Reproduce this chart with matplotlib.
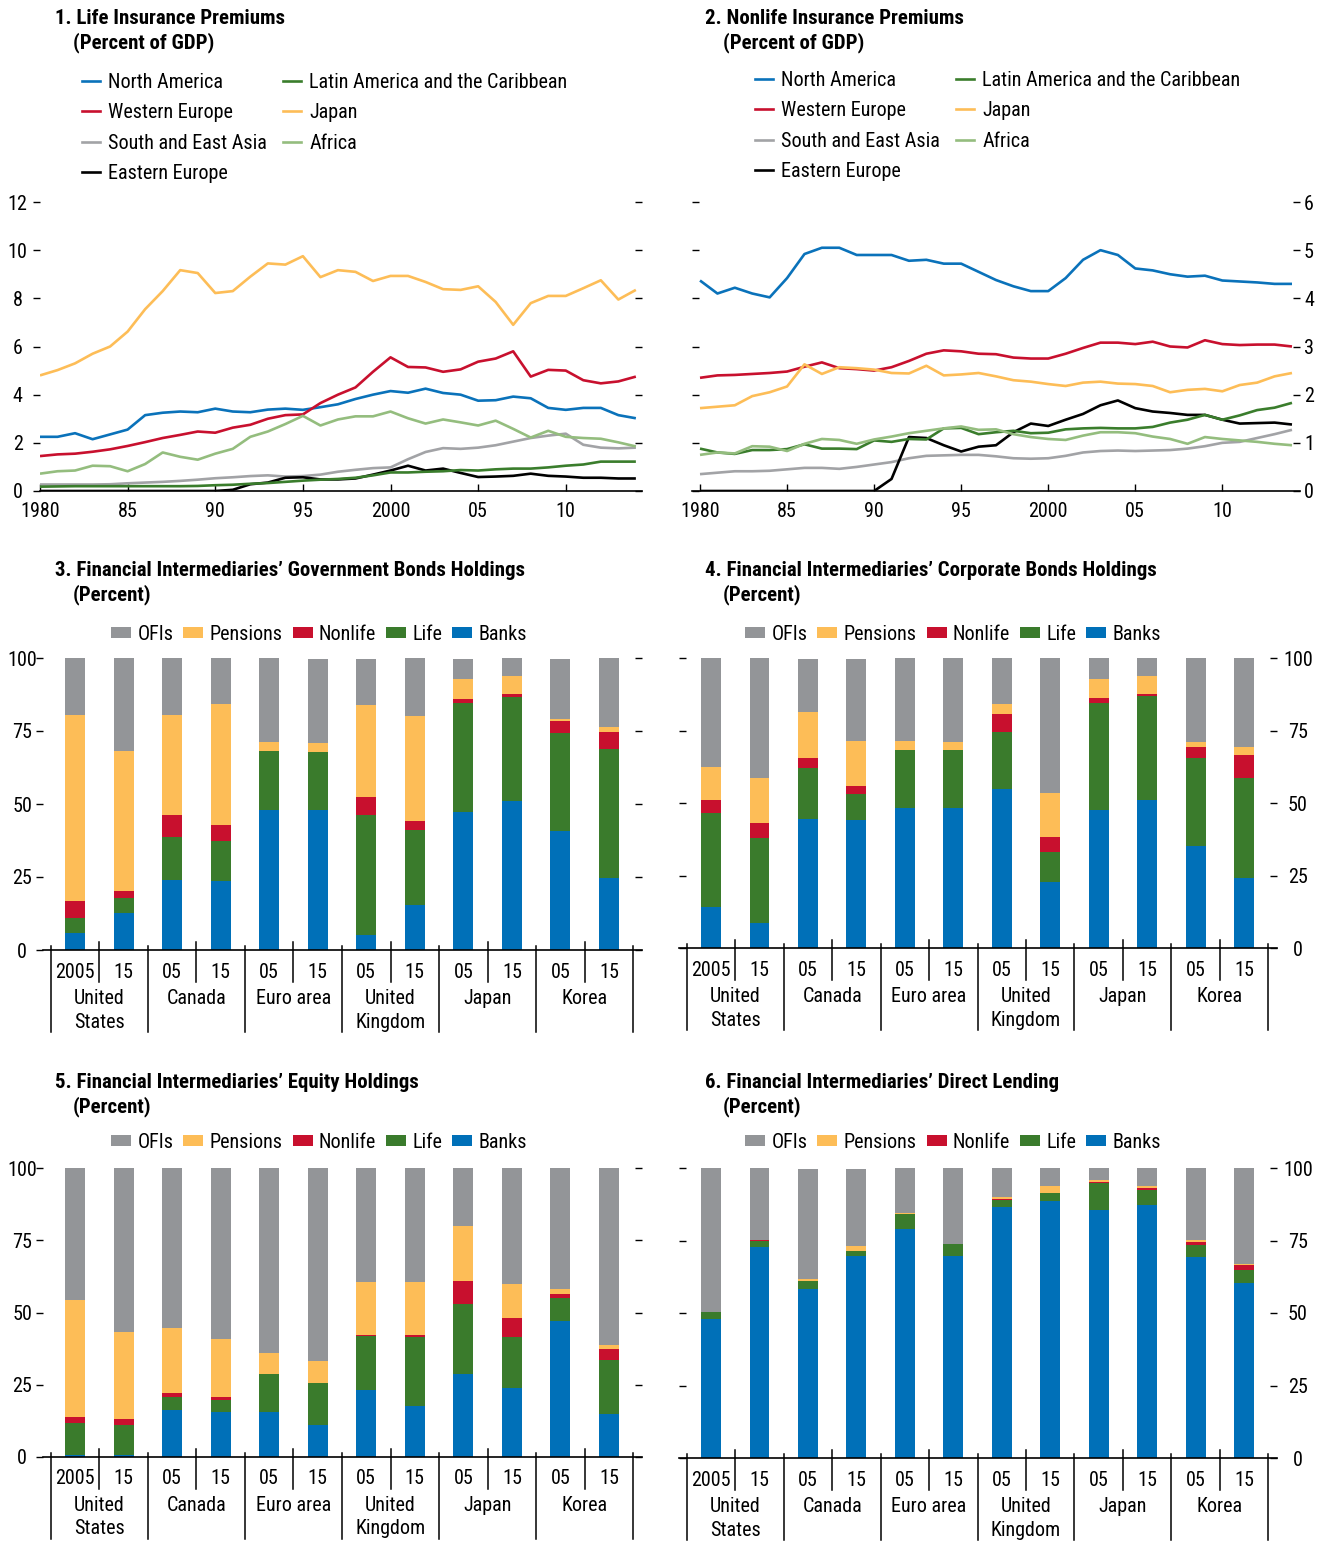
import numpy as np
import matplotlib
matplotlib.use('Agg')
import matplotlib.pyplot as plt
import matplotlib.transforms as mtransforms
from matplotlib import font_manager as fm
from matplotlib.lines import Line2D
from matplotlib.patches import Patch

W, H = 1323, 1541

# ---------------- data: insurance premiums (percent of GDP) ----------------
years = np.arange(1980, 2015)
regions = ['North America', 'Western Europe', 'South and East Asia', 'Eastern Europe',
           'Latin America and the Caribbean', 'Japan', 'Africa']
region_colors = ['#0a72ba', '#c8102e', '#a2a3a6', '#000000', '#3a7d2c', '#fdbd57', '#94bd7e']

life_na = [2.25, 2.25, 2.40, 2.15, 2.35, 2.55, 3.15, 3.25, 3.30, 3.27,
           3.42, 3.30, 3.27, 3.38, 3.42, 3.37, 3.48, 3.60, 3.82, 4.00,
           4.15, 4.08, 4.25, 4.07, 4.00, 3.75, 3.77, 3.92, 3.85, 3.45,
           3.37, 3.45, 3.45, 3.15, 3.02]
life_we = [1.45, 1.52, 1.55, 1.63, 1.73, 1.87, 2.03, 2.20, 2.33, 2.47,
           2.42, 2.63, 2.75, 3.00, 3.15, 3.18, 3.65, 4.00, 4.30, 4.95,
           5.55, 5.15, 5.13, 4.95, 5.05, 5.37, 5.50, 5.80, 4.75, 5.03,
           5.00, 4.60, 4.47, 4.55, 4.75]
life_sea = [0.27, 0.27, 0.27, 0.27, 0.28, 0.32, 0.35, 0.38, 0.42, 0.47,
            0.53, 0.57, 0.62, 0.65, 0.60, 0.62, 0.68, 0.80, 0.88, 0.95,
            0.98, 1.32, 1.62, 1.78, 1.75, 1.80, 1.90, 2.05, 2.20, 2.30,
            2.38, 1.92, 1.80, 1.77, 1.80]
life_ee = [0.00, 0.00, 0.00, 0.00, 0.00, 0.00, 0.00, 0.00, 0.00, 0.00,
           0.00, 0.05, 0.28, 0.35, 0.55, 0.57, 0.48, 0.48, 0.52, 0.68,
           0.85, 1.05, 0.85, 0.93, 0.75, 0.58, 0.60, 0.63, 0.72, 0.63,
           0.60, 0.55, 0.55, 0.52, 0.52]
life_lac = [0.18, 0.19, 0.20, 0.20, 0.20, 0.20, 0.20, 0.20, 0.20, 0.21,
            0.24, 0.26, 0.30, 0.33, 0.38, 0.43, 0.47, 0.50, 0.55, 0.65,
            0.77, 0.77, 0.80, 0.82, 0.87, 0.85, 0.90, 0.93, 0.93, 0.98,
            1.05, 1.10, 1.22, 1.22, 1.22]
life_jp = [4.80, 5.02, 5.30, 5.70, 6.00, 6.62, 7.55, 8.30, 9.17, 9.05,
           8.22, 8.30, 8.90, 9.45, 9.40, 9.75, 8.88, 9.17, 9.10, 8.72,
           8.93, 8.93, 8.68, 8.38, 8.35, 8.50, 7.85, 6.90, 7.80, 8.10,
           8.10, 8.42, 8.75, 7.95, 8.35]
life_af = [0.72, 0.82, 0.85, 1.05, 1.03, 0.82, 1.12, 1.60, 1.42, 1.30,
           1.55, 1.75, 2.25, 2.47, 2.78, 3.12, 2.72, 2.97, 3.10, 3.10,
           3.30, 3.02, 2.80, 2.97, 2.85, 2.72, 2.92, 2.58, 2.22, 2.50,
           2.25, 2.20, 2.17, 2.02, 1.85]

nl_na = [4.37, 4.10, 4.22, 4.10, 4.02, 4.42, 4.92, 5.05, 5.05, 4.90,
         4.90, 4.90, 4.78, 4.80, 4.72, 4.72, 4.55, 4.38, 4.25, 4.15,
         4.15, 4.42, 4.80, 5.00, 4.90, 4.62, 4.58, 4.50, 4.45, 4.47,
         4.37, 4.35, 4.33, 4.30, 4.30]
nl_we = [2.35, 2.40, 2.41, 2.43, 2.45, 2.48, 2.58, 2.67, 2.55, 2.53,
         2.50, 2.57, 2.70, 2.85, 2.92, 2.90, 2.85, 2.84, 2.77, 2.75,
         2.75, 2.85, 2.97, 3.08, 3.08, 3.05, 3.10, 3.00, 2.98, 3.13,
         3.05, 3.03, 3.04, 3.04, 3.00]
nl_sea = [0.35, 0.38, 0.41, 0.41, 0.42, 0.45, 0.48, 0.48, 0.46, 0.50,
          0.55, 0.60, 0.68, 0.73, 0.74, 0.75, 0.75, 0.72, 0.68, 0.67,
          0.68, 0.73, 0.80, 0.83, 0.84, 0.83, 0.84, 0.85, 0.88, 0.93,
          1.00, 1.02, 1.10, 1.18, 1.27]
nl_ee = [0.00, 0.00, 0.00, 0.00, 0.00, 0.00, 0.00, 0.00, 0.00, 0.00,
         0.00, 0.25, 1.12, 1.10, 0.95, 0.82, 0.92, 0.95, 1.22, 1.40,
         1.35, 1.48, 1.60, 1.78, 1.88, 1.72, 1.65, 1.62, 1.58, 1.58,
         1.48, 1.40, 1.41, 1.42, 1.38]
nl_lac = [0.88, 0.80, 0.77, 0.85, 0.85, 0.87, 0.97, 0.88, 0.88, 0.87,
          1.05, 1.02, 1.08, 1.07, 1.30, 1.31, 1.18, 1.22, 1.25, 1.20,
          1.21, 1.28, 1.30, 1.31, 1.30, 1.30, 1.33, 1.42, 1.48, 1.58,
          1.48, 1.57, 1.68, 1.73, 1.83]
nl_jp = [1.72, 1.75, 1.78, 1.97, 2.05, 2.17, 2.63, 2.43, 2.57, 2.55,
         2.52, 2.45, 2.44, 2.60, 2.40, 2.42, 2.45, 2.38, 2.30, 2.27,
         2.22, 2.18, 2.25, 2.27, 2.23, 2.22, 2.18, 2.05, 2.10, 2.12,
         2.07, 2.20, 2.25, 2.38, 2.45]
nl_af = [0.75, 0.80, 0.78, 0.93, 0.92, 0.83, 0.98, 1.08, 1.06, 0.98,
         1.07, 1.13, 1.20, 1.25, 1.30, 1.34, 1.27, 1.28, 1.18, 1.12,
         1.08, 1.06, 1.15, 1.22, 1.22, 1.20, 1.13, 1.08, 0.98, 1.12,
         1.08, 1.05, 1.02, 0.98, 0.95]

year_ticks = [1980, 1985, 1990, 1995, 2000, 2005, 2010]
year_labels = ['1980', '85', '90', '95', '2000', '05', '10']

# ---------------- data: holdings by sector (percent) ----------------
bar_years = ['2005', '15', '05', '15', '05', '15', '05', '15', '05', '15', '05', '15']
countries = ['United\nStates', 'Canada', 'Euro area', 'United\nKingdom', 'Japan', 'Korea']
sectors = ['OFIs', 'Pensions', 'Nonlife', 'Life', 'Banks']
sector_colors = {'OFIs': '#939598', 'Pensions': '#fdbd57', 'Nonlife': '#c8102e',
                 'Life': '#3a7b2c', 'Banks': '#0070b8'}

gov_banks = [5.9, 12.8, 24.0, 23.7, 47.9, 47.9, 5.3, 15.5, 47.1, 51.0, 40.8, 24.7]
gov_life = [5.1, 5.0, 14.7, 13.6, 20.3, 19.9, 40.9, 25.6, 37.5, 35.6, 33.5, 44.1]
gov_nonlife = [5.9, 2.5, 7.5, 5.5, 0.0, 0.0, 6.2, 3.1, 1.4, 1.1, 4.1, 5.9]
gov_pensions = [63.6, 47.9, 34.3, 41.4, 3.0, 3.1, 31.5, 35.9, 6.8, 6.1, 0.7, 1.7]
gov_ofis = [19.5, 31.8, 19.5, 15.8, 28.8, 28.8, 15.8, 19.9, 6.9, 6.2, 20.6, 23.6]

corp_banks = [14.0, 8.5, 44.4, 44.2, 48.3, 48.3, 54.8, 22.8, 47.6, 51.0, 35.2, 24.2]
corp_life = [32.5, 29.5, 17.7, 9.0, 19.9, 19.9, 19.8, 10.2, 36.9, 35.9, 30.3, 34.5]
corp_nonlife = [4.5, 5.0, 3.5, 2.7, 0.0, 0.0, 6.1, 5.2, 1.7, 0.7, 3.8, 7.8]
corp_pensions = [11.4, 15.7, 15.9, 15.6, 3.3, 2.9, 3.4, 15.2, 6.5, 6.2, 1.7, 2.8]
corp_ofis = [37.6, 41.3, 18.2, 28.2, 28.5, 28.9, 15.9, 46.6, 7.3, 6.2, 29.0, 30.7]

eq_banks = [0.6, 0.6, 16.3, 15.6, 15.6, 11.0, 23.2, 17.7, 28.8, 23.9, 47.0, 14.9]
eq_life = [11.1, 10.4, 4.4, 4.1, 13.0, 14.5, 18.6, 23.8, 24.2, 17.6, 8.1, 18.7]
eq_nonlife = [2.0, 2.0, 1.4, 1.0, 0.0, 0.0, 0.3, 0.6, 7.9, 6.5, 1.3, 3.7]
eq_pensions = [40.6, 30.2, 22.5, 20.1, 7.3, 7.6, 18.4, 18.4, 19.0, 11.8, 1.7, 1.4]
eq_ofis = [45.7, 56.8, 55.4, 59.2, 64.1, 66.9, 39.5, 39.5, 20.1, 40.2, 41.9, 61.3]

dl_banks = [48.1, 72.6, 58.4, 69.8, 79.0, 69.8, 86.6, 88.6, 85.6, 87.3, 69.2, 60.4]
dl_life = [2.4, 2.3, 2.7, 1.6, 5.2, 4.1, 2.4, 2.8, 9.2, 5.1, 4.3, 4.5]
dl_nonlife = [0.0, 0.4, 0.0, 0.0, 0.0, 0.0, 0.4, 0.0, 0.5, 0.8, 1.0, 1.7]
dl_pensions = [0.0, 0.0, 0.7, 1.8, 0.3, 0.0, 0.6, 2.4, 0.6, 0.6, 0.7, 0.4]
dl_ofis = [49.5, 24.7, 37.9, 26.5, 15.5, 26.1, 10.0, 6.2, 4.1, 6.2, 24.8, 33.0]

# ---------------- font: the original uses a condensed sans ----------------
names = {f.name for f in fm.fontManager.ttflist}
if 'Roboto Condensed' in names:
    plt.rcParams['font.family'] = ['Roboto Condensed', 'DejaVu Sans']
    FS, TFS = 14.5, 15
elif 'Liberation Sans Narrow' in names:
    plt.rcParams['font.family'] = ['Liberation Sans Narrow', 'DejaVu Sans']
    FS, TFS = 15, 15
else:
    plt.rcParams['font.family'] = ['Liberation Sans', 'DejaVu Sans']
    FS, TFS = 13, 13

TICK_LEN = 5.0


def axes_px(fig, x0, y0, x1, y1):
    # place an axes using pixel coordinates measured from the top-left corner
    return fig.add_axes([x0 / W, 1 - y1 / H, (x1 - x0) / W, (y1 - y0) / H])


def clean_spines(ax):
    for side in ['left', 'right', 'top']:
        ax.spines[side].set_visible(False)
    ax.spines['bottom'].set_color('black')
    ax.spines['bottom'].set_linewidth(1.2)
    ax.set_facecolor('none')


def title(fig, x, y, num, line1, line2):
    fig.text(x / W, 1 - y / H, num + ' ' + line1, fontsize=TFS, fontweight='bold',
             va='center', ha='left')
    fig.text((x + 18) / W, 1 - (y + 24) / H, line2, fontsize=TFS, fontweight='bold',
             va='center', ha='left')


def y_ticks(ax, ticks, labels_left, left_dir, right_dir, pad):
    # tick labels are centred in a column beside the plot; left and right tick
    # marks can point different ways, so a twin carries the plain side
    ax.set_yticks(ticks)
    ax.tick_params(axis='y', labelsize=FS, length=TICK_LEN, width=1.0, pad=pad)
    if left_dir == right_dir:
        ax.tick_params(axis='y', left=True, right=True, direction=left_dir,
                       labelleft=labels_left, labelright=not labels_left)
    elif labels_left:
        ax.tick_params(axis='y', left=True, right=False, direction=left_dir)
        side, d = 'right', right_dir
    else:
        ax.tick_params(axis='y', left=False, right=True, labelleft=False,
                       labelright=True, direction=right_dir)
        side, d = 'left', left_dir
    for t in ax.yaxis.get_major_ticks():
        t.label1.set_horizontalalignment('center')
        t.label2.set_horizontalalignment('center')
    if left_dir == right_dir:
        return
    tw = ax.twinx()
    tw.set_ylim(ax.get_ylim())
    tw.set_yticks(ticks)
    for s in tw.spines.values():
        s.set_visible(False)
    tw.tick_params(axis='y', left=(side == 'left'), right=(side == 'right'),
                   labelleft=False, labelright=False, direction=d,
                   length=TICK_LEN, width=1.0)


def line_panel(fig, box, series, ymax, ystep, xlim, labels_left, left_dir, right_dir, pad):
    ax = axes_px(fig, *box)
    for vals, name, col in zip(series, regions, region_colors):
        ax.plot(years, vals, color=col, lw=1.9, label=name, solid_capstyle='butt')
    ax.set_xlim(*xlim)
    ax.set_ylim(0, ymax)
    clean_spines(ax)
    ax.set_xticks(year_ticks)
    ax.set_xticklabels(year_labels)
    ax.tick_params(axis='x', direction='in', length=TICK_LEN, width=1.0, labelsize=FS, pad=8)
    y_ticks(ax, np.arange(0, ymax + 0.01, ystep), labels_left, left_dir, right_dir, pad)
    return ax


def line_legend(fig, x, y):
    handles = [Line2D([], [], color=c, lw=1.9) for c in region_colors]
    fig.legend(handles, regions, loc='upper left', bbox_to_anchor=(x / W, 1 - y / H),
               ncol=2, frameon=False, fontsize=FS, borderpad=0, borderaxespad=0,
               handlelength=0.9, handletextpad=0.4, columnspacing=0.8, labelspacing=0.57)


def bar_panel(fig, box, layers, labels_left, left_dir, right_dir, pad, legend_xy):
    ax = axes_px(fig, *box)
    x = np.arange(len(bar_years))
    bottom = np.zeros(len(bar_years))
    # stack from the bottom: banks, life, nonlife, pensions, OFIs
    for name in ['Banks', 'Life', 'Nonlife', 'Pensions', 'OFIs']:
        vals = np.array(layers[name])
        ax.bar(x, vals, 0.41, bottom=bottom, color=sector_colors[name], linewidth=0)
        bottom = bottom + vals
    ax.set_xlim(-0.66, 11.68)
    ax.set_ylim(0, 100)
    clean_spines(ax)
    ax.set_xticks(x)
    ax.set_xticklabels(bar_years)
    ax.tick_params(axis='x', length=0, labelsize=FS, pad=9)
    y_ticks(ax, [0, 25, 50, 75, 100], labels_left, left_dir, right_dir, pad)

    # two-level category axis: separators between countries and between years
    h = box[3] - box[1]
    trans = mtransforms.blended_transform_factory(ax.transData, ax.transAxes)
    for k in range(7):
        ax.plot([2 * k - 0.5] * 2, [4 / h, -82 / h], transform=trans, color='black',
                lw=1.1, clip_on=False)
    for k in range(6):
        ax.plot([2 * k + 0.5] * 2, [8 / h, -32 / h], transform=trans, color='black',
                lw=1.1, clip_on=False)
        ax.text(2 * k + 0.5, -39 / h, countries[k], transform=trans, ha='center',
                va='top', fontsize=FS, linespacing=1.3)

    handles = [Patch(facecolor=sector_colors[s], edgecolor='none') for s in sectors]
    fig.legend(handles, sectors, loc='center', bbox_to_anchor=(legend_xy[0] / W, 1 - legend_xy[1] / H),
               ncol=5, frameon=False, fontsize=FS, borderpad=0, borderaxespad=0,
               handlelength=1.0, handleheight=0.5, handletextpad=0.3, columnspacing=0.5)
    return ax


fig = plt.figure(figsize=(W / 100, H / 100), dpi=100)

# panel 1 and 2: premiums
title(fig, 55, 19, '1.', 'Life Insurance Premiums', '(Percent of GDP)')
line_panel(fig, (40, 202, 642, 491),
           [life_na, life_we, life_sea, life_ee, life_lac, life_jp, life_af],
           12, 2, (1980, 2014.35), True, 'out', 'in', 11)
line_legend(fig, 82, 73)

title(fig, 705, 19, '2.', 'Nonlife Insurance Premiums', '(Percent of GDP)')
line_panel(fig, (692, 202, 1300, 491),
           [nl_na, nl_we, nl_sea, nl_ee, nl_lac, nl_jp, nl_af],
           6, 1, (1979.54, 2014.46), False, 'in', 'in', 6.5)
line_legend(fig, 755, 71)

# panels 3-6: holdings
title(fig, 55, 571, '3.', 'Financial Intermediaries\u2019 Government Bonds Holdings', '(Percent)')
bar_panel(fig, (43, 658, 642, 950),
          {'Banks': gov_banks, 'Life': gov_life, 'Nonlife': gov_nonlife,
           'Pensions': gov_pensions, 'OFIs': gov_ofis},
          True, 'out', 'in', 10, (319, 634))

title(fig, 705, 571, '4.', 'Financial Intermediaries\u2019 Corporate Bonds Holdings', '(Percent)')
bar_panel(fig, (679, 658, 1277, 948),
          {'Banks': corp_banks, 'Life': corp_life, 'Nonlife': corp_nonlife,
           'Pensions': corp_pensions, 'OFIs': corp_ofis},
          False, 'in', 'in', 15, (953, 634))

title(fig, 55, 1083, '5.', 'Financial Intermediaries\u2019 Equity Holdings', '(Percent)')
bar_panel(fig, (43, 1168, 642, 1457),
          {'Banks': eq_banks, 'Life': eq_life, 'Nonlife': eq_nonlife,
           'Pensions': eq_pensions, 'OFIs': eq_ofis},
          True, 'out', 'in', 10, (319, 1142))

title(fig, 705, 1083, '6.', 'Financial Intermediaries\u2019 Direct Lending', '(Percent)')
bar_panel(fig, (679, 1168, 1277, 1458),
          {'Banks': dl_banks, 'Life': dl_life, 'Nonlife': dl_nonlife,
           'Pensions': dl_pensions, 'OFIs': dl_ofis},
          False, 'in', 'in', 15, (953, 1142))

fig.savefig('out.png', dpi=100)
